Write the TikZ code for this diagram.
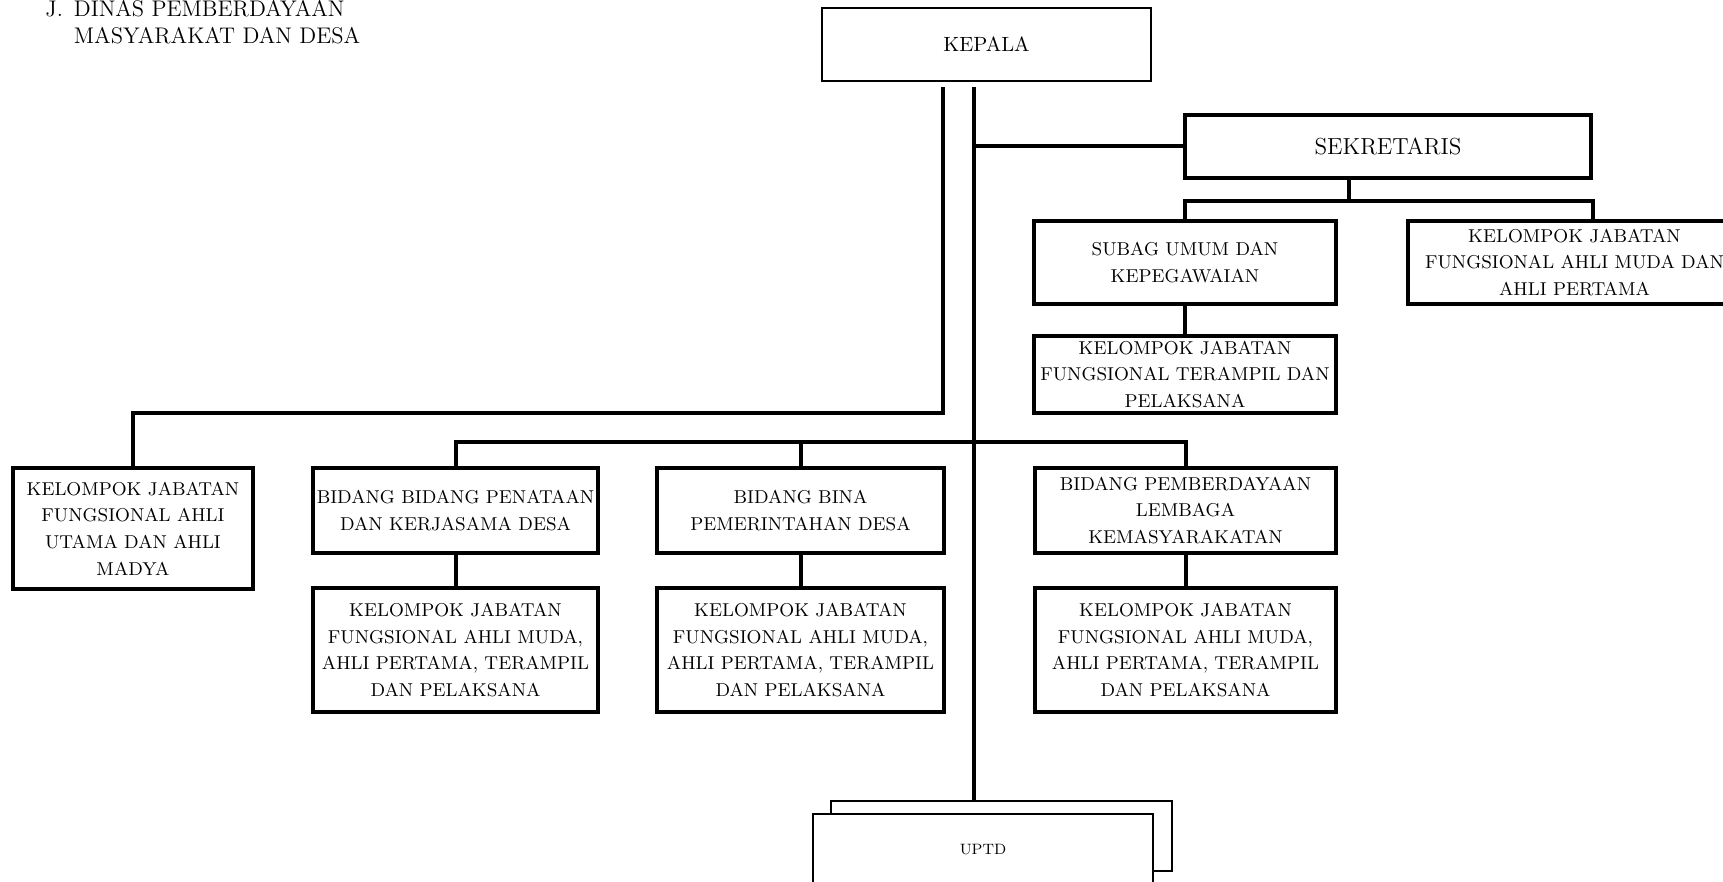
\documentclass[tikz,border=0pt]{standalone}
\newcommand{\teksjf}{KELOMPOK JABATAN\\ FUNGSIONAL AHLI MUDA,\\ AHLI PERTAMA, TERAMPIL\\ DAN PELAKSANA}
\begin{document}
\begin{tikzpicture}[x=0.5pt,y=-0.5pt,
  kotak/.style={draw,line width=2pt,align=center,inner sep=2pt,font=\fontsize{9.3}{13.3}\selectfont},
  tipis/.style={draw,line width=1.2pt,fill=white,align=center,inner sep=2pt},
  garis/.style={line width=2pt}]
\useasboundingbox (0,0) rectangle (1723,882);
\clip (0,0) rectangle (1723,882);
\node[anchor=base west,inner sep=0pt,font=\fontsize{11.3}{13.5}\selectfont] (judul) at (45,17)
  {\begin{tabular}[t]{@{}l@{\hspace{5.5pt}}l}J. & DINAS PEMBERDAYAAN\\ & MASYARAKAT DAN DESA\end{tabular}};
\node[tipis,minimum width=164.5pt,minimum height=36.5pt,font=\fontsize{10.3}{12}\selectfont] (kepala) at (986.5,44.5) {KEPALA};
\node[kotak,minimum width=203pt,minimum height=31.5pt,font=\fontsize{11.6}{14}\selectfont] (sekretaris) at (1388,146.5) {SEKRETARIS};
\node[kotak,minimum width=151pt,minimum height=41.5pt] (subag) at (1185,262.5) {SUBAG UMUM DAN\\ KEPEGAWAIAN};
\node[kotak,minimum width=166.5pt,minimum height=41.5pt] (jfmuda) at (1574.5,262.5) {KELOMPOK JABATAN\\ FUNGSIONAL AHLI MUDA DAN\\ AHLI PERTAMA};
\node[kotak,minimum width=151pt,minimum height=38.5pt,inner ysep=0pt] (terampil) at (1185,374.5) {KELOMPOK JABATAN\\ FUNGSIONAL TERAMPIL DAN\\ PELAKSANA};
\node[kotak,minimum width=120pt,minimum height=60.5pt] (jfutama) at (133,528.5) {KELOMPOK JABATAN\\ FUNGSIONAL AHLI\\ UTAMA DAN AHLI\\ MADYA};
\node[kotak,minimum width=142.5pt,minimum height=42.5pt] (bid1) at (455.5,510.5) {BIDANG BIDANG PENATAAN\\ DAN KERJASAMA DESA};
\node[kotak,minimum width=143.5pt,minimum height=42.5pt] (bid2) at (800.5,510.5) {BIDANG BINA\\ PEMERINTAHAN DESA};
\node[kotak,minimum width=150.5pt,minimum height=42.5pt] (bid3) at (1185.5,510.5) {BIDANG PEMBERDAYAAN\\ LEMBAGA\\ KEMASYARAKATAN};
\foreach \i/\x/\w in {1/455.5/142.5,2/800.5/143.5,3/1185.5/150.5}
  \node[kotak,minimum width=\w pt,minimum height=62pt] (kel\i) at (\x,650) {\teksjf};
\node[tipis,minimum width=170.5pt,minimum height=35pt] (uptdb) at (1001.5,836) {};
\node[tipis,minimum width=170pt,minimum height=36pt,font=\fontsize{7.5}{9}\selectfont] (uptd) at (983,850) {UPTD};
\coordinate (cabkiri) at (943,413);
\coordinate (cabkanan) at (973.6,146.5);
\coordinate (cabsek) at (1349,201);
\coordinate (cabbid) at (800.5,442);
\draw[garis,shorten <=2.5pt] (kepala.south -| cabkiri) -- (cabkiri) -| (jfutama.north);
\draw[garis,shorten <=2.5pt] (kepala.south -| cabkanan) -- (uptdb.north -| cabkanan);
\draw[garis] (cabkanan) -- (sekretaris.west);
\draw[garis] (sekretaris.south -| cabsek) -- (cabsek);
\draw[garis] (subag.north) |- (cabsek) -| (jfmuda.north -| sekretaris.east);
\draw[garis] (subag.south) -- (terampil.north);
\draw[garis] (bid1.north) |- (cabbid) -| (bid3.north);
\draw[garis] (bid2.north) -- (cabbid);
\foreach \i in {1,2,3}
  \draw[garis] (bid\i.south) -- (kel\i.north);
\end{tikzpicture}
\end{document}
